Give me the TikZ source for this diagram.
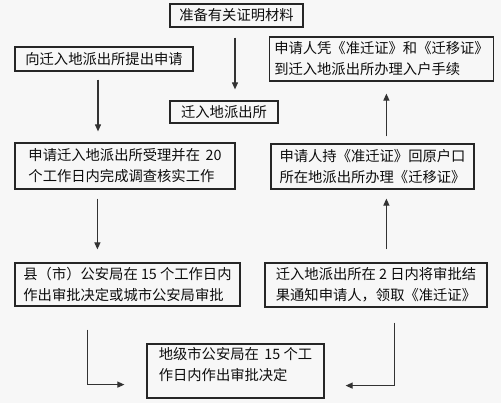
\documentclass[tikz,border=0pt]{standalone}
\usepackage{fontspec}
\newfontfamily\cjk{Noto Sans CJK SC}
\usetikzlibrary{arrows.meta,calc}
\begin{document}
\begin{tikzpicture}[x=1pt,y=-1pt,
  box/.style={draw=black!85, line width=1.2pt, inner xsep=5pt, inner ysep=2pt,
    align=left, text=black!95, font=\cjk\fontsize{14.3}{21}\selectfont},
  arr/.style={draw=black!80, line width=1.1pt, -{Triangle[length=7pt,width=6pt]}}]
\useasboundingbox[fill=black!3] (0,0) rectangle (501,403);
\node[box, minimum width=133pt, minimum height=23pt] (b1) at (236.5,15.5) {准备有关证明材料};
\node[box, minimum width=178pt, minimum height=24pt] (b2) at (104,59) {向迁入地派出所提出申请};
\node[box, minimum width=108pt, minimum height=22pt] (b3) at (224,112) {迁入地派出所};
\node[box, minimum width=221pt, minimum height=44pt] (b4) at (381.5,59) {申请人凭《准迁证》和《迁移证》\\到迁入地派出所办理入户手续};
\node[box, minimum width=220pt, minimum height=46pt] (b5) at (125,166) {申请迁入地派出所受理并在 \,20\\个工作日内完成调查核实工作};
\node[box, minimum width=203pt, minimum height=45pt] (b6) at (372.5,166.5) {申请人持《准迁证》回原户口\\所在地派出所办理《迁移证》};
\node[box, minimum width=225pt, minimum height=43pt] (b7) at (127.5,284.5) {县（市）公安局在 15 个工作日内\\作出审批决定或城市公安局审批};
\node[box, minimum width=222pt, minimum height=44pt] (b8) at (376,285) {迁入地派出所在 2 日内将审批结\\果通知申请人，领取《准迁证》};
\node[box, minimum width=177pt, minimum height=54pt, text depth=14pt] (b9) at (235.5,371) {地级市公安局在 \,15 个工\\作日内作出审批决定};
% arrows
\draw[arr] ($(b1.south)+(-1.5,10)$) -- ($(b1.south |- b3.north)+(-1.5,-11)$);
\draw[arr] ($(b2.south)+(-6,8)$) -- ($(b2.south |- b5.north)+(-6,-11)$);
\draw[arr] ($(b5.south west)+(83,9)$) -- ($(b5.south west |- b7.north)+(83,-13)$);
\draw[arr] ($(b6.north west)+(116,-7)$) -- ($(b6.north west |- b4.south)+(116,12)$);
\draw[arr] ($(b8.north west)+(122,-13)$) -- ($(b8.north west |- b6.south)+(122,9)$);
\draw[arr] ($(b7.south west)+(73,23)$) |- ($(b9.south west)+(-22,-14)$);
\draw[arr] ($(b8.south west)+(130,15)$) |- ($(b9.south east)+(21,-13)$);
\end{tikzpicture}
\end{document}
